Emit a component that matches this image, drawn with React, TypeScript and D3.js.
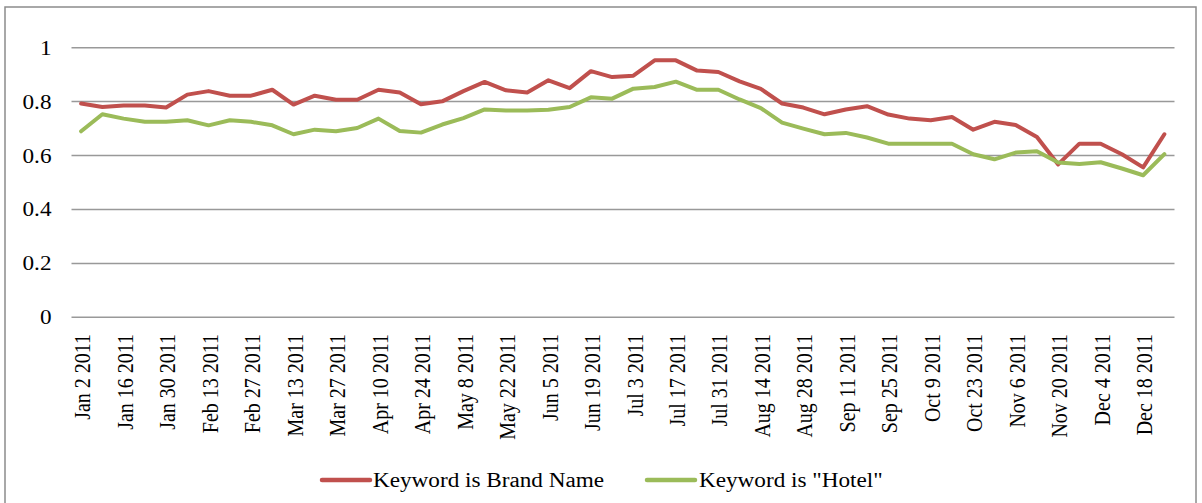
import React from "react";
import * as d3 from "d3";

const weeks: string[] = [
  "Jan 2 2011", "Jan 9 2011", "Jan 16 2011", "Jan 23 2011", "Jan 30 2011", "Feb 6 2011",
  "Feb 13 2011", "Feb 20 2011", "Feb 27 2011", "Mar 6 2011", "Mar 13 2011", "Mar 20 2011",
  "Mar 27 2011", "Apr 3 2011", "Apr 10 2011", "Apr 17 2011", "Apr 24 2011", "May 1 2011",
  "May 8 2011", "May 15 2011", "May 22 2011", "May 29 2011", "Jun 5 2011", "Jun 12 2011",
  "Jun 19 2011", "Jun 26 2011", "Jul 3 2011", "Jul 10 2011", "Jul 17 2011", "Jul 24 2011",
  "Jul 31 2011", "Aug 7 2011", "Aug 14 2011", "Aug 21 2011", "Aug 28 2011", "Sep 4 2011",
  "Sep 11 2011", "Sep 18 2011", "Sep 25 2011", "Oct 2 2011", "Oct 9 2011", "Oct 16 2011",
  "Oct 23 2011", "Oct 30 2011", "Nov 6 2011", "Nov 13 2011", "Nov 20 2011", "Nov 27 2011",
  "Dec 4 2011", "Dec 11 2011", "Dec 18 2011", "Dec 25 2011",
];

const tickLabels: string[] = [
  "Jan 2 2011", "Jan 16 2011", "Jan 30 2011", "Feb 13 2011", "Feb 27 2011", "Mar 13 2011",
  "Mar 27 2011", "Apr 10 2011", "Apr 24 2011", "May 8 2011", "May 22 2011", "Jun 5 2011",
  "Jun 19 2011", "Jul 3 2011", "Jul 17 2011", "Jul 31 2011", "Aug 14 2011", "Aug 28 2011",
  "Sep 11 2011", "Sep 25 2011", "Oct 9 2011", "Oct 23 2011", "Nov 6 2011", "Nov 20 2011",
  "Dec 4 2011", "Dec 18 2011",
];

const brandName: number[] = [
  0.793, 0.780, 0.786, 0.786, 0.778, 0.826, 0.839, 0.822, 0.822, 0.844, 0.789, 0.822,
  0.807, 0.807, 0.844, 0.834, 0.790, 0.801, 0.839, 0.873, 0.842, 0.834, 0.879, 0.850,
  0.913, 0.891, 0.896, 0.953, 0.953, 0.915, 0.910, 0.875, 0.847, 0.793, 0.778, 0.753,
  0.771, 0.783, 0.752, 0.737, 0.731, 0.743, 0.696, 0.725, 0.713, 0.669, 0.567, 0.644,
  0.644, 0.605, 0.556, 0.679,
];

const hotel: number[] = [
  0.690, 0.753, 0.737, 0.725, 0.725, 0.731, 0.712, 0.731, 0.725, 0.712, 0.679, 0.696,
  0.690, 0.702, 0.737, 0.691, 0.685, 0.715, 0.739, 0.771, 0.767, 0.767, 0.770, 0.780,
  0.816, 0.811, 0.848, 0.854, 0.874, 0.844, 0.844, 0.808, 0.776, 0.722, 0.700, 0.679,
  0.684, 0.667, 0.644, 0.644, 0.644, 0.644, 0.605, 0.586, 0.611, 0.616, 0.574, 0.569,
  0.575, 0.552, 0.527, 0.605,
];

const yTicks: number[] = [0, 0.2, 0.4, 0.6, 0.8, 1];

const seriesNames: string[] = ["Keyword is Brand Name", 'Keyword is "Hotel"'];
const seriesColors: string[] = ["#C0504D", "#9BBB59"];

const FONT = "Liberation Serif, Times New Roman, Times, serif";
const STRETCH = 1.16;

export default function App() {
  const W = 1202;
  const H = 503;
  const x = d3.scaleBand<string>().domain(weeks).range([70.5, 1175]);
  const y = d3.scaleLinear().domain([0, 1]).range([317.3, 47.7]);
  const cx = (w: string) => (x(w) as number) + x.bandwidth() / 2;

  const line = d3
    .line<number>()
    .x((_, i) => cx(weeks[i]))
    .y((d) => y(d));

  const series = [brandName, hotel];
  const gridX0 = 71.5;
  const gridX1 = 1174.5;

  const legendItems = [
    { x0: 322, x1: 370, tx: 373 },
    { x0: 647, x1: 695, tx: 699 },
  ];

  return (
    <svg
      width={W}
      height={H}
      style={{ position: "absolute", left: 0, top: 0, background: "#fff", fontFamily: FONT }}
    >
      <rect x={0} y={0} width={W} height={H} fill="#fff" />
      <rect x={5} y={7} width={1191} height={520} fill="none" stroke="#8c8c8c" strokeWidth={1.5} />

      {yTicks.map((t) => (
        <g key={t}>
          <line x1={gridX0} x2={gridX1} y1={y(t)} y2={y(t)} stroke="#999" strokeWidth={1.5} />
          <text
            transform={`translate(51.5,${y(t)}) scale(${STRETCH},1)`}
            textAnchor="end"
            dy="0.35em"
            style={{ fontFamily: FONT }}
            fontSize={20}
            fill="#000"
          >
            {d3.format("")(t)}
          </text>
        </g>
      ))}

      {tickLabels.map((l) => (
        <text
          key={l}
          transform={`translate(${cx(l) + 1},334) rotate(-90) scale(1,${STRETCH})`}
          textAnchor="end"
          dy="0.35em"
          style={{ fontFamily: FONT }}
          fontSize={20}
          fill="#000"
        >
          {l}
        </text>
      ))}

      {series.map((s, k) => (
        <path
          key={k}
          d={line(s) || ""}
          fill="none"
          stroke={seriesColors[k]}
          strokeWidth={4}
          strokeLinejoin="round"
          strokeLinecap="round"
        />
      ))}

      {legendItems.map((it, k) => (
        <g key={k}>
          <line
            x1={it.x0}
            x2={it.x1}
            y1={480}
            y2={480}
            stroke={seriesColors[k]}
            strokeWidth={4.5}
            strokeLinecap="round"
          />
          <text
            transform={`translate(${it.tx},480) scale(${STRETCH},1)`}
            dy="0.35em"
            style={{ fontFamily: FONT }}
            fontSize={20}
            fill="#000"
          >
            {seriesNames[k]}
          </text>
        </g>
      ))}
    </svg>
  );
}
